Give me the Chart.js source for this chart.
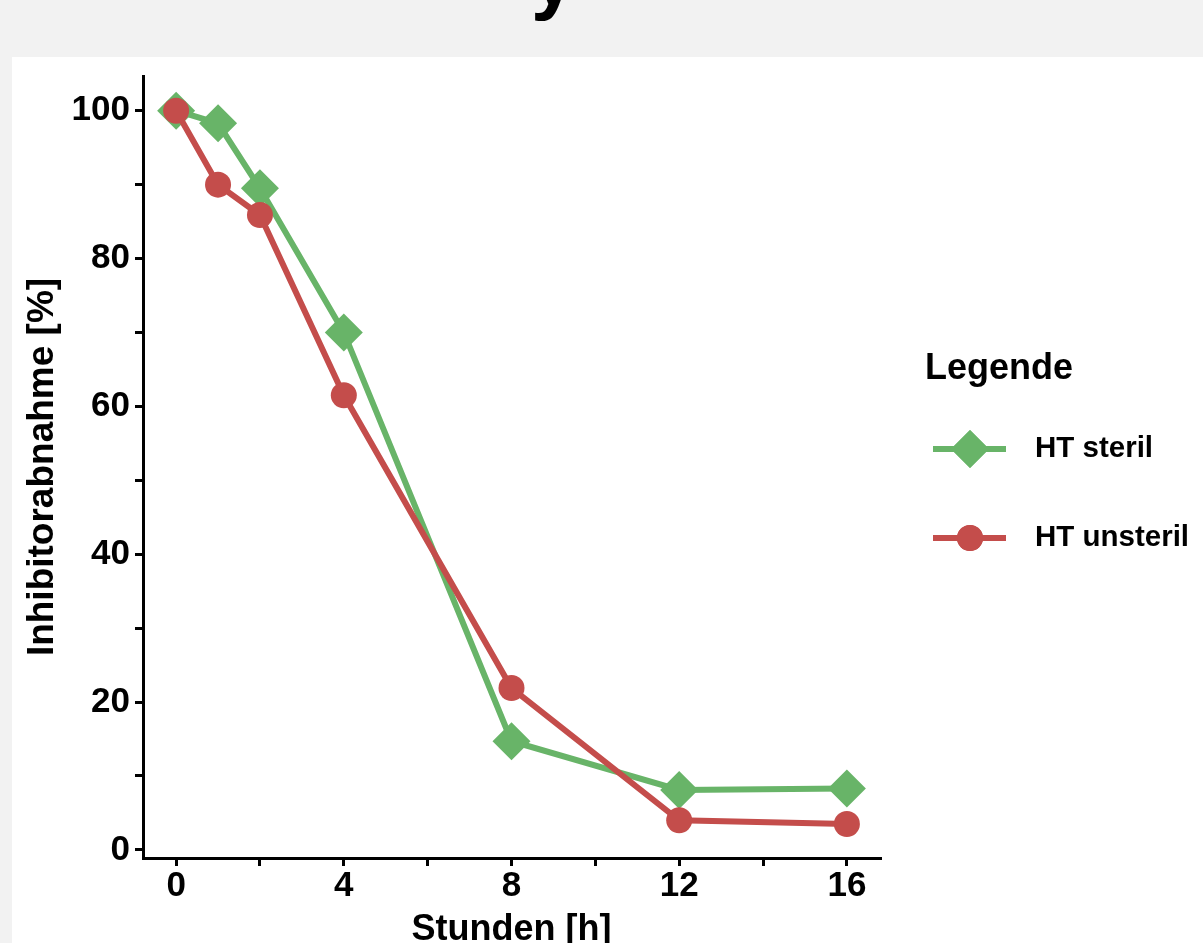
<!DOCTYPE html>
<html lang="de">
<head>
    <meta charset="UTF-8">
    <title>Inhibitorabnahme</title>
    <script src="https://cdn.jsdelivr.net/npm/chart.js"></script>
    <style>
        body {
            margin: 0;
            background: #f2f2f2;
            font-family: "Liberation Sans", Arial, sans-serif;
            overflow: hidden;
        }
        .kopf {
            position: absolute;
            left: 531px;
            top: -63px;
            font-size: 80px;
            line-height: 1;
            font-weight: bold;
            color: #000;
        }
        .panel {
            position: absolute;
            left: 12px;
            top: 57px;
            width: 1191px;
            height: 886px;
            background: #fff;
        }
    </style>
</head>
<body>
    <div class="kopf">y</div>
    <div class="panel">
        <canvas id="abnahmeChart"></canvas>
    </div>

    <script>
        // Messwerte
        const stunden = [0, 1, 2, 4, 8, 12, 16];
        const htSteril = [100, 98.3, 89.5, 70.0, 14.7, 8.1, 8.3];
        const htUnsteril = [100, 90.0, 85.9, 61.5, 21.9, 4.0, 3.5];
        const xTicks = [0, 2, 4, 6, 8, 10, 12, 14, 16];
        const xLabels = [0, 4, 8, 12, 16];
        const yTicks = [0, 10, 20, 30, 40, 50, 60, 70, 80, 90, 100];
        const yLabels = [0, 20, 40, 60, 80, 100];

        const gruen = '#68b468';
        const rot = '#c44d4b';
        const schrift = '"Liberation Sans", Arial, sans-serif';

        const punkte = (ys) => stunden.map((x, i) => ({ x: x, y: ys[i] }));

        // Legende rechts neben dem Diagramm
        const legendePlugin = {
            id: 'legende',
            afterDraw(chart) {
                const ctx = chart.ctx;
                ctx.save();
                ctx.fillStyle = '#000';
                ctx.textBaseline = 'middle';
                ctx.textAlign = 'left';
                ctx.font = 'bold 36px ' + schrift;
                ctx.fillText('Legende', 913, 312);
                const eintraege = [
                    { text: 'HT steril', farbe: gruen, y: 392, form: 'rectRot', r: 19 },
                    { text: 'HT unsteril', farbe: rot, y: 481, form: 'circle', r: 13 }
                ];
                eintraege.forEach(e => {
                    ctx.strokeStyle = e.farbe;
                    ctx.lineWidth = 6;
                    ctx.beginPath();
                    ctx.moveTo(921, e.y);
                    ctx.lineTo(994, e.y);
                    ctx.stroke();
                    ctx.fillStyle = e.farbe;
                    Chart.helpers.drawPoint(ctx, { pointStyle: e.form, radius: e.r, borderWidth: 0 }, 958, e.y);
                    ctx.fill();
                    ctx.fillStyle = '#000';
                    ctx.font = 'bold 29.5px ' + schrift;
                    ctx.fillText(e.text, 1023, e.y);
                });
                ctx.restore();
            }
        };

        new Chart(document.getElementById('abnahmeChart'), {
            type: 'line',
            data: {
                datasets: [
                    {
                        label: 'HT steril',
                        data: punkte(htSteril),
                        borderColor: gruen,
                        backgroundColor: gruen,
                        borderWidth: 6,
                        pointStyle: 'rectRot',
                        pointRadius: 19,
                        pointBorderWidth: 0,
                        order: 1,
                        fill: false
                    },
                    {
                        label: 'HT unsteril',
                        data: punkte(htUnsteril),
                        borderColor: rot,
                        backgroundColor: rot,
                        borderWidth: 6,
                        pointStyle: 'circle',
                        pointRadius: 13,
                        pointBorderWidth: 0,
                        order: 0,
                        fill: false
                    }
                ]
            },
            options: {
                responsive: true,
                maintainAspectRatio: false,
                animation: false,
                layout: { padding: { top: 12, right: 323, left: 0, bottom: 0 } },
                plugins: {
                    legend: { display: false },
                    tooltip: { enabled: false }
                },
                scales: {
                    x: {
                        type: 'linear',
                        min: -0.79,
                        max: 16.79,
                        afterBuildTicks: (s) => { s.ticks = xTicks.map(v => ({ value: v })); },
                        afterFit: (s) => { s.height = 85; s.paddingLeft = 0; s.paddingRight = 0; },
                        grid: {
                            drawOnChartArea: false,
                            drawTicks: true,
                            tickLength: 8,
                            lineWidth: 3,
                            color: '#000'
                        },
                        border: { display: true, width: 3, color: '#000' },
                        ticks: {
                            autoSkip: false,
                            maxRotation: 0,
                            padding: 1,
                            color: '#000',
                            font: { family: schrift, size: 35, weight: 'bold', lineHeight: 1.1 },
                            callback: (v) => xLabels.includes(v) ? String(v) : ''
                        },
                        title: {
                            display: true,
                            text: 'Stunden [h]',
                            color: '#000',
                            font: { family: schrift, size: 36, weight: 'bold', lineHeight: 1 },
                            padding: { top: 0, bottom: -5 }
                        }
                    },
                    y: {
                        min: -1.1,
                        max: 104.7,
                        afterBuildTicks: (s) => { s.ticks = yTicks.map(v => ({ value: v })); },
                        afterFit: (s) => { s.width = 131; s.paddingTop = 0; s.paddingBottom = 0; },
                        grid: {
                            drawOnChartArea: false,
                            drawTicks: true,
                            tickLength: 8,
                            lineWidth: 3,
                            color: '#000'
                        },
                        border: { display: true, width: 3, color: '#000' },
                        ticks: {
                            autoSkip: false,
                            padding: 5,
                            color: '#000',
                            font: { family: schrift, size: 35, weight: 'bold' },
                            callback: (v) => yLabels.includes(v) ? String(v) : ''
                        },
                        title: {
                            display: true,
                            text: 'Inhibitorabnahme [%]',
                            color: '#000',
                            font: { family: schrift, size: 37, weight: 'bold', lineHeight: 1 },
                            padding: { top: 12, bottom: 0 }
                        }
                    }
                }
            },
            plugins: [legendePlugin]
        });
    </script>
</body>
</html>
